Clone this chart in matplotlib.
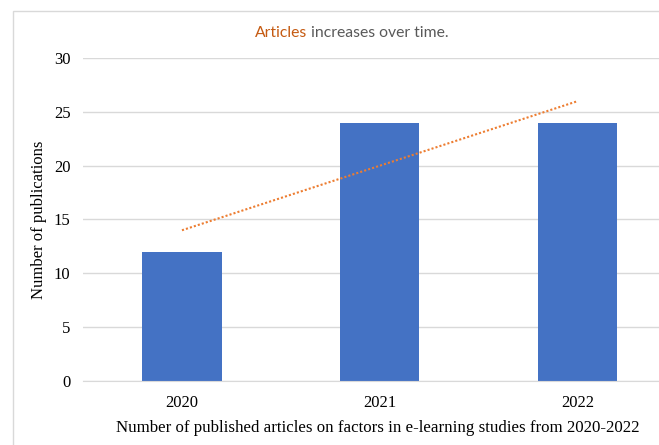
import numpy as np
import matplotlib
matplotlib.use("Agg")
import matplotlib.pyplot as plt
from matplotlib.patches import Rectangle

years = ["2020", "2021", "2022"]
publications = [12, 24, 24]
y_ticks = [0, 5, 10, 15, 20, 25, 30]

plt.rcParams["font.family"] = ["Liberation Serif", "DejaVu Serif"]

fig = plt.figure(figsize=(6.59, 4.45), dpi=100)
ax = fig.add_axes([83 / 659, 64 / 445, 576 / 659, 323 / 445])

x = np.arange(len(years))
ax.bar(x, publications, width=0.4, color="#4472c4", zorder=2)

# linear trendline like Excel's
slope, intercept = np.polyfit(x, publications, 1)
ax.plot(x, slope * x + intercept, color="#ed7d31", linestyle=(0, (1, 1)),
        linewidth=1.5, zorder=3)

ax.set_xlim(-0.5, 2.41)
ax.set_ylim(0, 30)
ax.set_yticks(y_ticks)
ax.set_xticks(x)
ax.set_xticklabels(years)
ax.tick_params(axis="both", length=0, labelsize=12, colors="black")
ax.tick_params(axis="y", pad=9)
ax.tick_params(axis="x", pad=10)
ax.grid(axis="y", color="#d9d9d9", linewidth=1, zorder=0)
for side in ["top", "right", "left"]:
    ax.spines[side].set_visible(False)
ax.spines["bottom"].set_color("#d9d9d9")
ax.set_ylabel("Number of publications", fontsize=12, va="center")
ax.yaxis.set_label_coords(-(83 - 39) / 576, 0.5)

fig.text(378 / 659, 1 - 432 / 445,
         "Number of published articles on factors in e-learning studies from 2020-2022",
         ha="center", va="baseline", fontsize=12.2)

# title with coloured first word
t1 = fig.text(255 / 659, 1 - 33 / 445, "Articles", color="#c55a11",
              fontsize=11.3, family="Lato", ha="left", va="center")
ax.annotate(" increases over time.", xycoords=t1, xy=(1, 0), va="bottom",
            ha="left", color="#595959", fontsize=11.3, family="Lato",
            annotation_clip=False)

fig.patches.append(Rectangle((13 / 659, -0.1), 1.2, 1.1 - 11 / 445,
                             transform=fig.transFigure, fill=False,
                             edgecolor="#d9d9d9", linewidth=1))

fig.savefig("out.png", dpi=100)
